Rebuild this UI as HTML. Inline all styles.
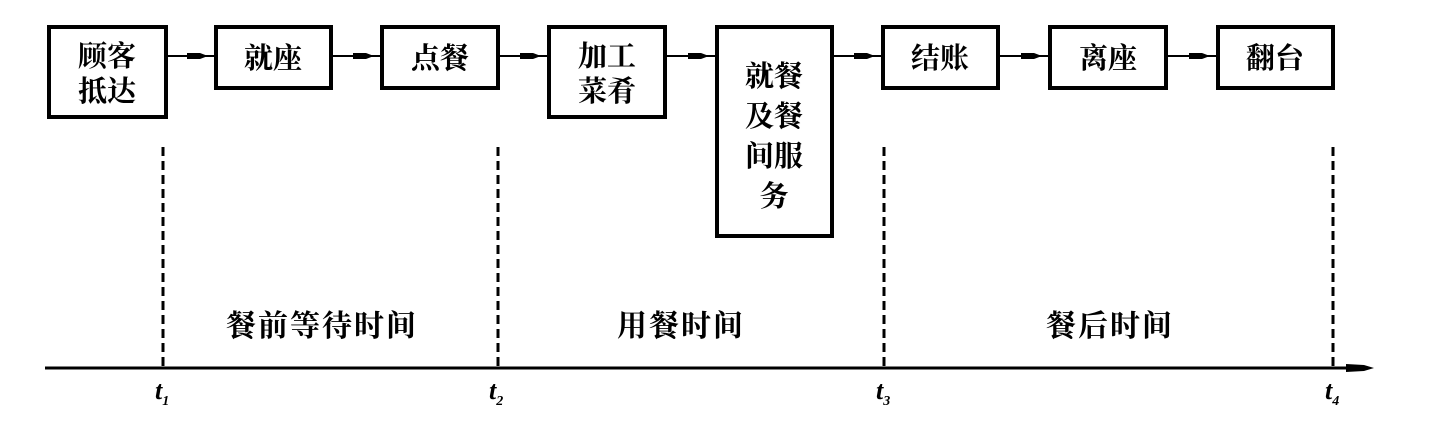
<!DOCTYPE html>
<html><head><meta charset="utf-8"><style>
html,body{margin:0;padding:0;background:#fff;}
svg{display:block;}
text{font-family:"Liberation Serif","Noto Serif CJK SC","WenQuanYi Zen Hei",serif;font-weight:bold;fill:#000;}
</style></head><body>
<svg width="1444" height="442" viewBox="0 0 1444 442" xmlns="http://www.w3.org/2000/svg">
<g fill="#fff" stroke="#000" stroke-width="4">
<rect x="49" y="27" width="117" height="90"/>
<rect x="216" y="27" width="115" height="61"/>
<rect x="382" y="27" width="116" height="61"/>
<rect x="549" y="27" width="116" height="90"/>
<rect x="717" y="27" width="115" height="209"/>
<rect x="883" y="27" width="115" height="61"/>
<rect x="1050" y="27" width="116" height="61"/>
<rect x="1218" y="27" width="115" height="61"/>
</g>
<g stroke="#000" stroke-width="2">
<line x1="167" y1="56" x2="214" y2="56"/>
<line x1="332" y1="56" x2="380" y2="56"/>
<line x1="499" y1="56" x2="547" y2="56"/>
<line x1="666" y1="56" x2="715" y2="56"/>
<line x1="833" y1="56" x2="881" y2="56"/>
<line x1="999" y1="56" x2="1048" y2="56"/>
<line x1="1167" y1="56" x2="1216" y2="56"/>
</g>
<g fill="#000">
<polygon points="187,53 200,53 208,56 200,59 187,59"/>
<polygon points="353,53 366,53 374,56 366,59 353,59"/>
<polygon points="520,53 533,53 541,56 533,59 520,59"/>
<polygon points="688,53 701,53 709,56 701,59 688,59"/>
<polygon points="854,53 867,53 875,56 867,59 854,59"/>
<polygon points="1021,53 1034,53 1042,56 1034,59 1021,59"/>
<polygon points="1189,53 1202,53 1210,56 1202,59 1189,59"/>
</g>
<g font-size="29" text-anchor="middle">
<text x="107" y="66">顾客</text>
<text x="107" y="101">抵达</text>
<text x="273" y="68">就座</text>
<text x="440" y="68">点餐</text>
<text x="607" y="66">加工</text>
<text x="607" y="101">菜肴</text>
<text x="774" y="86">就餐</text>
<text x="774" y="126">及餐</text>
<text x="774" y="166">间服</text>
<text x="774" y="206">务</text>
<text x="940" y="68">结账</text>
<text x="1108" y="68">离座</text>
<text x="1275" y="68">翻台</text>
</g>
<g stroke="#000" stroke-width="3" stroke-dasharray="9,5">
<line x1="163" y1="147" x2="163" y2="367"/>
<line x1="498" y1="147" x2="498" y2="367"/>
<line x1="884" y1="147" x2="884" y2="367"/>
<line x1="1333" y1="147" x2="1333" y2="367"/>
</g>
<line x1="45" y1="368" x2="1350" y2="368" stroke="#000" stroke-width="3"/>
<polygon points="1346,364 1364,365 1374,368 1364,371 1346,372" fill="#000"/>
<g font-size="30" text-anchor="middle" letter-spacing="2">
<text x="322" y="336">餐前等待时间</text>
<text x="681" y="336">用餐时间</text>
<text x="1110" y="336">餐后时间</text>
</g>
<g font-size="26" font-style="italic">
<text x="155" y="399">t<tspan font-size="14" dy="6">1</tspan></text>
<text x="489" y="399">t<tspan font-size="14" dy="6">2</tspan></text>
<text x="876" y="399">t<tspan font-size="14" dy="6">3</tspan></text>
<text x="1325" y="399">t<tspan font-size="14" dy="6">4</tspan></text>
</g>
</svg>
</body></html>
